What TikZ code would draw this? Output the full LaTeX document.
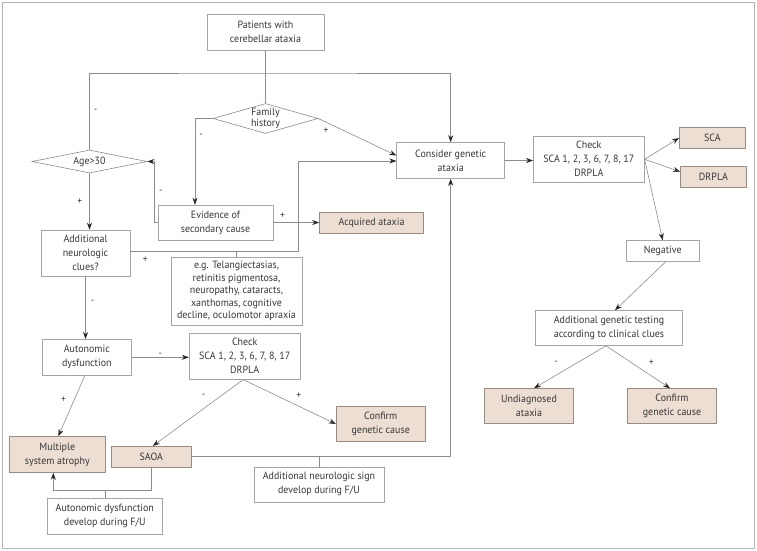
\documentclass[tikz,border=0pt]{standalone}
\usepackage{fontspec}
\setmainfont[FakeStretch=0.95]{PT Sans}
\usetikzlibrary{shapes.geometric, arrows.meta}

\definecolor{linegray}{RGB}{140,140,140}
\definecolor{boxgray}{RGB}{165,165,165}
\definecolor{resultfill}{RGB}{237,222,212}
\definecolor{resultedge}{RGB}{150,140,134}
\definecolor{textgray}{RGB}{55,55,55}
\definecolor{framegray}{RGB}{180,180,180}

\begin{document}
\begin{tikzpicture}[x=1pt, y=-1pt, font=\fontsize{10.5}{14}\selectfont, text=textgray]

  \tikzstyle{plain} = [rectangle, draw=boxgray, fill=white, align=center, inner sep=1pt, line width=0.6pt]
  \tikzstyle{outcome} = [plain, draw=resultedge, fill=resultfill]
  \tikzstyle{decision} = [diamond, draw=linegray, fill=white, inner sep=0pt, line width=0.6pt]

  \tikzstyle{link} = [draw=linegray, line width=0.6pt]
  \tikzstyle{arrow} = [link, -{Stealth[length=7pt, width=5pt, color=black!85]}]
  \tikzstyle{sign} = [font=\fontsize{10}{10}\selectfont, inner sep=1pt]

  \useasboundingbox (0,0) rectangle (757,551);
  \draw [framegray, line width=0.8pt] (2.5,2.5) rectangle (754.5,548.5);

  \node (patients) [plain, minimum width=117pt, minimum height=36pt] at (265.5,32) {Patients with\\cerebellar ataxia};
  \node (family) [decision, minimum width=105pt, minimum height=30pt, label={[align=center, font=\fontsize{10.5}{11.5}\selectfont]center:Family\\history}] at (265.5,118.5) {};
  \node (age) [decision, minimum width=115pt, minimum height=23pt, label=center:Age>30] at (89.5,161.5) {};
  \node (evidence) [plain, minimum width=115pt, minimum height=35pt] at (215.5,222.5) {Evidence of\\secondary cause};
  \node (acquired) [outcome, minimum width=104pt, minimum height=21pt] at (371.5,223) {Acquired ataxia};
  \node (addneuro) [plain, minimum width=89pt, minimum height=46pt] at (85.5,253) {Additional\\neurologic\\clues?};
  \node (clues) [plain, minimum width=131pt, minimum height=68pt, font=\fontsize{10.5}{12.5}\selectfont] at (236.5,291.3) {e.g. Telangiectasias,\\retinitis pigmentosa,\\neuropathy, cataracts,\\xanthomas, cognitive\\decline, oculomotor apraxia};
  \node (consider) [plain, minimum width=108pt, minimum height=36pt] at (450.7,160.5) {Consider genetic\\ataxia};
  \node (check) [plain, minimum width=111pt, minimum height=46pt] at (588.8,159.3) {Check\\SCA 1, 2, 3, 6, 7, 8, 17\\DRPLA};
  \node (sca) [outcome, minimum width=66pt, minimum height=21pt] at (712.3,138) {SCA};
  \node (drpla) [outcome, minimum width=66pt, minimum height=21pt] at (713.5,176.7) {DRPLA};
  \node (negative) [plain, minimum width=73pt, minimum height=21pt] at (662.7,251) {Negative};
  \node (gentest) [plain, minimum width=147pt, minimum height=35pt] at (609,328) {Additional genetic testing\\according to clinical clues};
  \node (undiagnosed) [outcome, minimum width=89pt, minimum height=35pt] at (529,406) {Undiagnosed\\ataxia};
  \node (confirmright) [outcome, minimum width=89pt, minimum height=35pt] at (672,406) {Confirm\\genetic cause};
  \node (autonomic) [plain, minimum width=89pt, minimum height=36pt] at (86.8,357.3) {Autonomic\\dysfunction};
  \node (checkleft) [plain, minimum width=111pt, minimum height=46pt] at (244.7,356.3) {Check\\SCA 1, 2, 3, 6, 7, 8, 17\\DRPLA};
  \node (confirmleft) [outcome, minimum width=89pt, minimum height=35pt] at (380.7,424) {Confirm\\genetic cause};
  \node (msa) [outcome, minimum width=96pt, minimum height=36pt] at (57.3,454.5) {Multiple\\system atrophy};
  \node (saoa) [outcome, minimum width=80pt, minimum height=21pt] at (151.3,456.7) {SAOA};
  \node (signfu) [plain, minimum width=130pt, minimum height=35pt] at (319,484.3) {Additional neurologic sign\\develop during F/U};
  \node (autofu) [plain, minimum width=115pt, minimum height=36pt] at (104.8,516) {Autonomic dysfunction\\develop during F/U};

  \coordinate (topbar) at (265.5,73);
  \coordinate (clue) at (298,251);

  \draw [link] (patients) -- (family);
  \draw [arrow] (age.north) |- node[sign, pos=0.25, right=3pt] {-} (topbar) -| (consider.north);
  \draw [arrow] (family.west) -| node[sign, pos=0.6, right=3pt] {-} ([xshift=-20.5pt]evidence.north);
  \draw [arrow] (family.east) -- node[sign, pos=0.1, below=4pt] {+} ([yshift=5pt]consider.west);
  \draw [arrow] (age.south) -- node[sign, left=6pt] {+} (age.south |- addneuro.north);
  \draw [arrow] (evidence.west) -- ++(-3,0) |- node[sign, pos=0.25, right=3pt] {-} (age.east);
  \draw [arrow] (evidence.east) -- node[sign, pos=0.2, above=3pt] {+} (evidence.east -| acquired.west);
  \draw [arrow] ([yshift=2pt]addneuro.east) -- node[sign, pos=0.09, below=5pt] {+} (clue) |- ([yshift=-0.5pt]consider.west);
  \draw [link] (clues.north) -- (clues.north |- clue);
  \draw [arrow] (addneuro.south) -- node[sign, pos=0.4, right=4pt] {-} (addneuro.south |- autonomic.north);
  \draw [arrow] (autonomic.east) -- node[sign, above=0pt] {-} (autonomic.east -| checkleft.west);
  \draw [arrow] ([xshift=-2pt]autonomic.south) -- node[sign, pos=0.4, left=7pt] {+} ([xshift=1pt]msa.north);
  \draw [arrow] ([xshift=-1.5pt]checkleft.south) -- node[sign, pos=0.25, left=14pt] {-} ([xshift=1.5pt]saoa.north);
  \draw [arrow] ([xshift=-1.5pt]checkleft.south) -- node[sign, pos=0.6, above=6pt] {+} (confirmleft.west);
  \draw [arrow] (saoa.east) -| (consider.south);
  \draw [link] (signfu.north) -- (signfu.north |- saoa.east);
  \draw [arrow] (saoa.south) -- ++(0,23) -| ([xshift=-4pt]msa.south);
  \draw [link] (autofu.north) -- ++(0,-8);
  \draw [arrow] (consider.east) -- (consider.east -| check.west);
  \draw [arrow] (check.east) -- (sca.west);
  \draw [arrow] (check.east) -- ([yshift=5pt]drpla.west);
  \draw [arrow] (check.east) -- (negative.north);
  \draw [arrow] ([xshift=3pt]negative.south) -- ([xshift=6pt]gentest.north);
  \draw [arrow] ([xshift=-3pt]gentest.south) -- node[sign, pos=0.4, left=18pt] {-} ([xshift=5pt]undiagnosed.north);
  \draw [arrow] ([xshift=-3pt]gentest.south) -- node[sign, pos=0.4, right=16pt] {+} ([xshift=-2pt]confirmright.north);

\end{tikzpicture}
\end{document}
